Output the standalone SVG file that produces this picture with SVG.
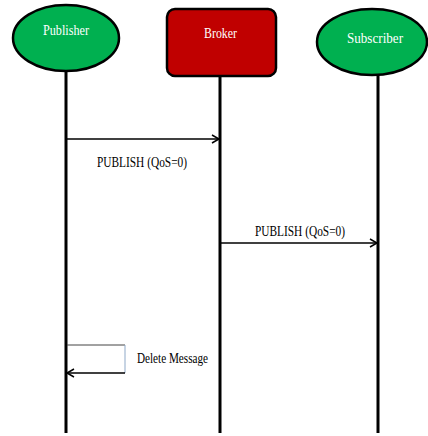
<svg xmlns="http://www.w3.org/2000/svg" width="428" height="436" viewBox="0 0 428 436">
  <style>
    .lifeline { stroke: #000; stroke-width: 3; fill: none; }
    .msg { stroke: #000; stroke-width: 1.5; fill: none; }
    .actor { stroke: #000; stroke-width: 2.5; }
    .name { font-size: 14px; fill: #fff; }
    .label { font-size: 14px; fill: #000; }
  </style>
  <defs>
    <marker id="open-arrow" markerWidth="10" markerHeight="10" refX="8" refY="5" orient="auto" markerUnits="userSpaceOnUse">
      <path d="M1,1 L8,5 L1,9" fill="none" stroke="#000" stroke-width="1.5"/>
    </marker>
  </defs>
  <rect width="428" height="436" fill="#fff"/>

  <g id="lifelines">
    <line class="lifeline" x1="66" y1="71" x2="66" y2="433"/>
    <line class="lifeline" x1="220" y1="76" x2="220" y2="433"/>
    <line class="lifeline" x1="378" y1="75" x2="378" y2="433"/>
  </g>

  <g font-family="'Liberation Serif', 'Times New Roman', serif">
    <g id="publisher">
      <ellipse class="actor" cx="66" cy="38" rx="53" ry="33" fill="#00b050"/>
      <text class="name" x="43" y="35" textLength="46" lengthAdjust="spacingAndGlyphs">Publisher</text>
    </g>

    <g id="broker">
      <rect class="actor" x="167" y="9" width="109" height="67" rx="8" fill="#c00000"/>
      <text class="name" x="204" y="38" textLength="33" lengthAdjust="spacingAndGlyphs">Broker</text>
    </g>

    <g id="subscriber">
      <ellipse class="actor" cx="372" cy="42" rx="55" ry="33" fill="#00b050"/>
      <text class="name" x="347" y="43" font-size="15px" textLength="56" lengthAdjust="spacingAndGlyphs">Subscriber</text>
    </g>

    <g id="labels">
      <text class="label" x="97" y="167" font-size="15px" textLength="90" lengthAdjust="spacingAndGlyphs">PUBLISH (QoS=0)</text>
      <text class="label" x="255" y="236" textLength="90" lengthAdjust="spacingAndGlyphs">PUBLISH (QoS=0)</text>
      <text class="label" x="137" y="363" font-size="12px" textLength="71" lengthAdjust="spacingAndGlyphs">Delete Message</text>
    </g>
  </g>

  <g id="connectors">
    <line class="msg" x1="67" y1="139" x2="219" y2="139" marker-end="url(#open-arrow)"/>
    <line class="msg" x1="221" y1="243" x2="377" y2="243" marker-end="url(#open-arrow)"/>
    <path d="M67,345 H125" stroke="#444" stroke-width="1" fill="none"/>
    <path d="M125,345 V373" stroke="#8fa9c8" stroke-width="1" fill="none"/>
    <line class="msg" x1="125" y1="373" x2="67" y2="373" marker-end="url(#open-arrow)"/>
  </g>
</svg>
